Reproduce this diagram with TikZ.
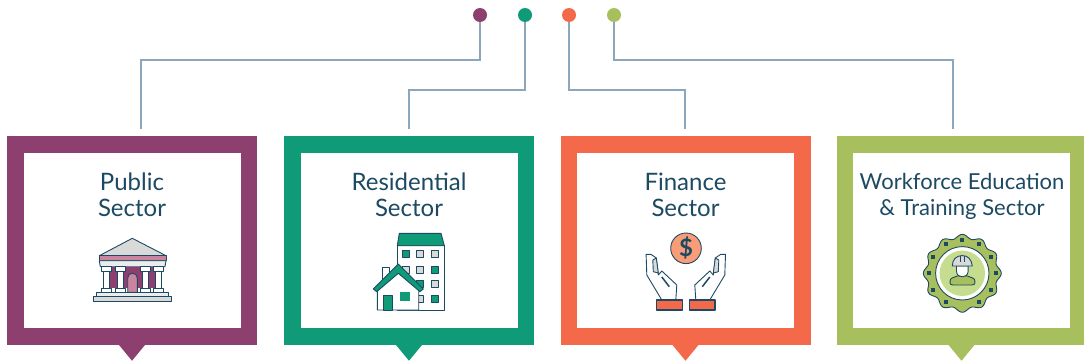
\documentclass[tikz,border=0pt]{standalone}
\usepackage{fontspec}
\setmainfont{Lato}
\definecolor{inkblue}{HTML}{1D4A63}
\definecolor{wireblue}{HTML}{8CA6BC}
\definecolor{plum}{HTML}{8D3F6F}
\definecolor{plumlight}{HTML}{C9849F}
\definecolor{jade}{HTML}{0F9B78}
\definecolor{coral}{HTML}{F4694A}
\definecolor{coral2}{HTML}{F99C78}
\definecolor{moss}{HTML}{A8BF5E}
\definecolor{mosslight}{HTML}{C6DD8F}
\definecolor{stone}{HTML}{D9D9D9}
\tikzset{
  sectorbox/.style={draw=#1,fill=white,line width=16.5pt,minimum width=233.5pt,minimum height=192pt,inner sep=0pt},
  sectordot/.style={circle,fill=#1,minimum size=14pt,inner sep=0pt},
  sectortext/.style={text=inkblue,align=center,font=\fontsize{24}{25.5}\selectfont,inner sep=0pt},
  wire/.style={draw=wireblue,line width=1.1pt},
  icon/.style={draw=inkblue,line width=0.9pt,line join=round},
}
\begin{document}
\begin{tikzpicture}[x=1pt,y=-1pt]
    \useasboundingbox (0,0) rectangle (1084,364);

    % frames
    \node[sectorbox=plum] (BoxA) at (132,240.5) {};
    \node[sectorbox=jade] (BoxB) at (409,240.5) {};
    \node[sectorbox=coral] (BoxC) at (685.5,240.5) {};
    \node[sectorbox=moss] (BoxD) at (961.5,240.5) {};
    \fill[plum] ([xshift=-14pt,yshift=1pt]BoxA.south) -- ([xshift=14pt,yshift=1pt]BoxA.south) -- ([yshift=-16pt]BoxA.south) -- cycle;
    \fill[jade] ([xshift=-14pt,yshift=1pt]BoxB.south) -- ([xshift=14pt,yshift=1pt]BoxB.south) -- ([yshift=-16pt]BoxB.south) -- cycle;
    \fill[coral] ([xshift=-14pt,yshift=1pt]BoxC.south) -- ([xshift=14pt,yshift=1pt]BoxC.south) -- ([yshift=-16pt]BoxC.south) -- cycle;
    \fill[moss] ([xshift=-14pt,yshift=1pt]BoxD.south) -- ([xshift=14pt,yshift=1pt]BoxD.south) -- ([yshift=-16pt]BoxD.south) -- cycle;

    % dots and wires
    \node[sectordot=plum] (DotA) at (480,15) {};
    \node[sectordot=jade] (DotB) at (525,15) {};
    \node[sectordot=coral] (DotC) at (569,15) {};
    \node[sectordot=moss] (DotD) at (614,15) {};
    \coordinate (EndA) at (141,129);
    \coordinate (EndB) at (409,129);
    \coordinate (EndC) at (685,129);
    \coordinate (EndD) at (953,129);
    \draw[wire] (DotA) -- (480,60) -- (141,60) -- (EndA);
    \draw[wire] (DotB) -- (525,90) -- (409,90) -- (EndB);
    \draw[wire] (DotC) -- (569,90) -- (685,90) -- (EndC);
    \draw[wire] (DotD) -- (614,60) -- (953,60) -- (EndD);

    % labels
    \node[sectortext] (TextA) at (132,195) {Public\\Sector};
    \node[sectortext] (TextB) at (409,195) {Residential\\Sector};
    \node[sectortext] (TextC) at (685.5,195) {Finance\\Sector};
    \node[sectortext,font=\fontsize{22}{25.5}\selectfont] (TextD) at (962,196.5) {Workforce Education\\\& Training Sector};

    % bank
    \draw[icon,fill=stone] (132.3,238.3) -- (99.3,255.7) -- (166,255.7) -- cycle;
    \draw[icon,fill=plumlight] (99.3,255.7) rectangle (166,260.7);
    \draw[icon,fill=stone!50] (99.3,260.7) -- (166,260.7) -- (165,266.7) -- (100.3,266.7) -- cycle;
    \fill[plum] (108,266.7) rectangle (157,288.3);
    \foreach \cx in {106.7,120,145.7,158.7} {
      \draw[icon,fill=white] (\cx-3,271) rectangle (\cx+3,288.3);
      \draw[icon,fill=white] (\cx-5,266.7) rectangle (\cx+5,271);
      \draw[icon,fill=white] (\cx-5,288.3) rectangle (\cx+5,292.3);
    }
    \draw[icon,fill=plumlight] (127.7,292.3) -- (127.7,278) arc[start angle=180,end angle=0,radius=4.8pt] -- (137.3,292.3) -- cycle;
    \draw[icon,fill=stone!50] (96.7,292.3) rectangle (168.3,296.7);
    \draw[icon,fill=stone] (93.3,296.7) rectangle (171.7,301.7);

    % apartment and house
    \draw[icon,fill=white] (397.3,245.7) rectangle (444.3,310);
    \draw[icon,fill=jade] (399.3,233.3) -- (441,233.3) -- (444.3,245.7) -- (397.3,245.7) -- cycle;
    \foreach \wx/\wy/\wc in {406/254.3/jade,420.3/254.3/stone,434.7/254.3/stone,406/269.7/stone,420.3/269.7/stone,434.7/269.7/jade,406/284/jade,420.3/284/jade,434.7/284/stone,420.3/299/stone,434.7/299/jade}
      \draw[icon,fill=\wc] (\wx-3.4,\wy-3.4) rectangle (\wx+3.4,\wy+3.4);
    \draw[icon,fill=white] (382.3,267) rectangle (389,280);
    \draw[icon,fill=white] (377.3,288) -- (398.3,268) -- (418.7,288) -- (418.7,310) -- (377.3,310) -- cycle;
    \draw[icon,fill=jade] (398.3,264) -- (373.3,289) -- (376.7,291.7) -- (398.3,273.3) -- (420,291.7) -- (423.3,289) -- cycle;
    \draw[icon,fill=jade] (383.3,295) rectangle (392,310);
    \fill[jade] (400.3,292) rectangle (410.3,300.7);

    % hands and coin
    \draw[icon,fill=coral2] (686,248.3) circle (15.3);
    \node[text=inkblue,font=\fontsize{24}{24}\bfseries\selectfont,inner sep=0pt] (Coin) at (686,248.3) {\$};
    \foreach \sgn in {1,-1} {
      \begin{scope}[shift={(685.8,0)},x={\sgn*1pt}]
        \draw[icon,fill=white] (-24,300) -- (-39,275) -- (-39.7,254.3) -- (-35,254.3) -- (-29.5,258) -- (-27.5,275) -- (-24,271) -- (-9,285) -- (-10,300) -- cycle;
        \draw[icon,fill=stone] (-33,260) -- (-29.5,258) -- (-27.5,273) -- (-32.5,271.7) -- cycle;
        \draw[icon,line width=1.5pt] (-24,277) -- (-16.5,286.7);
        \draw[icon,fill=coral,line width=1.3pt] (-29.2,300) rectangle (-3.5,310);
      \end{scope}
    }

    % gear and worker
    \begin{scope}[shift={(962.3,273.3)}]
      \draw[icon,fill=moss] plot[domain=0:360,samples=121,smooth] (\x:{37+2*cos(12*\x)}) -- cycle;
      \foreach \ang in {0,30,60,120,150,180,210,240,270,300,330}
        \fill[inkblue] (\ang:33.5) +(-2,-2) rectangle +(2,2);
      \draw[icon,fill=white] (0,0) circle (26.7);
      \fill[mosslight] (0,0) circle (22.7);
      \draw[icon,fill=moss] (-12.3,8) .. controls (-12.3,4) and (-8,4.5) .. (-5,2.7) -- (5,2.7) .. controls (8,4.5) and (12.7,4) .. (12.7,8) .. controls (12.7,11.7) and (11,11.7) .. (9,11.7) -- (-9,11.7) .. controls (-11,11.7) and (-12.3,11.7) .. (-12.3,8) -- cycle;
      \draw[icon,fill=white] (-5.8,-7.3) -- (-5.8,-2) .. controls (-5.8,2) and (-2.5,3.5) .. (0,3.5) .. controls (2.5,3.5) and (5.8,2) .. (5.8,-2) -- (5.8,-7.3) -- cycle;
      \draw[icon,fill=stone] (-10,-7.3) .. controls (-10,-14) and (-6,-17.7) .. (0,-17.7) .. controls (6,-17.7) and (9,-14) .. (10,-7.3) -- cycle;
      \draw[icon] (-2,-17.5) -- (-2,-11) (2,-17.5) -- (2,-11);
    \end{scope}
\end{tikzpicture}
\end{document}
